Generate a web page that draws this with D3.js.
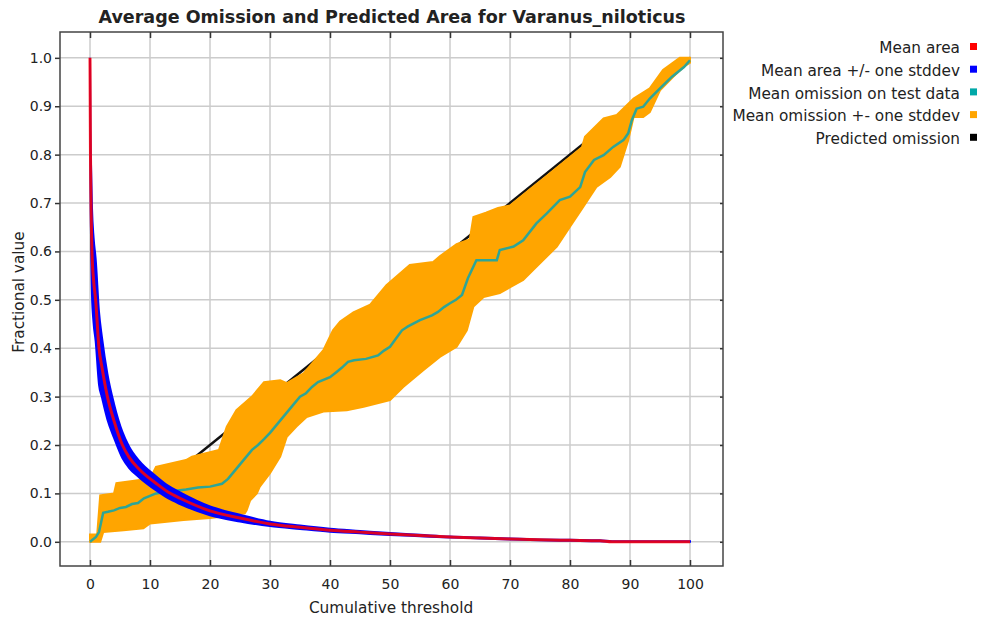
<!DOCTYPE html>
<html>
<head>
<meta charset="utf-8">
<title>Average Omission and Predicted Area</title>
<script src="https://d3js.org/d3.v7.min.js"></script>
<style>
  body { margin: 0; background: #fff; }
  text { font-family: "DejaVu Sans", sans-serif; fill: #222; }
</style>
</head>
<body>
<svg id="chart" width="989" height="622"></svg>
<script>
// mean area (fraction of area predicted) and its stddev
var areaX    = [0, 0.08, 0.15, 0.33, 0.6, 0.94, 1.5, 2, 2.9, 4, 5.4, 6.5, 8.2, 11.1, 13, 15, 20, 25, 30, 35, 40, 45, 50, 55, 60, 65, 70, 75, 80, 85, 87, 90, 100];
var areaMean = [1.0, 0.8, 0.72, 0.6, 0.54, 0.5, 0.4, 0.36, 0.3, 0.25, 0.2, 0.175, 0.15, 0.12, 0.103, 0.09, 0.064, 0.049, 0.037, 0.03, 0.024, 0.02, 0.016, 0.013, 0.01, 0.008, 0.006, 0.004, 0.003, 0.002, 0.0, 0.0, 0.0];
var areaSd   = [0.02, 0.05, 0.07, 0.09, 0.088, 0.085, 0.075, 0.062, 0.047, 0.035, 0.027, 0.022, 0.017, 0.0145, 0.013, 0.012, 0.009, 0.007, 0.0045, 0.0035, 0.003, 0.0025, 0.002, 0.0015, 0.001, 0.001, 0.001, 0.001, 0.001, 0.001, 0.001, 0.001, 0.001];

// mean omission on test data
var omX    = [0, 1, 1.5, 2.2, 3, 4, 5, 6, 7, 8, 9, 10, 11, 12, 14, 16, 18, 20, 22, 23, 24, 25, 26, 27, 28, 29, 30, 31, 32, 33, 34, 35, 36, 37, 38, 40, 41, 42, 43, 44, 46, 48, 49, 50, 51, 52, 53, 55, 57, 58, 59, 60, 61, 62, 63, 64.4, 67.8, 68.3, 70.6, 72.2, 74.4, 76.1, 78.3, 80, 81.7, 82.5, 84, 85.6, 87.2, 88.9, 89.7, 90.3, 91.1, 92.2, 93.3, 95, 97, 99, 100];
var omMean = [0, 0.01, 0.02, 0.06, 0.062, 0.065, 0.07, 0.072, 0.078, 0.08, 0.09, 0.095, 0.1, 0.102, 0.105, 0.108, 0.112, 0.114, 0.12, 0.13, 0.145, 0.16, 0.175, 0.19, 0.2, 0.212, 0.225, 0.24, 0.255, 0.27, 0.285, 0.3, 0.307, 0.32, 0.33, 0.34, 0.35, 0.36, 0.372, 0.375, 0.378, 0.385, 0.395, 0.403, 0.42, 0.437, 0.445, 0.458, 0.468, 0.475, 0.485, 0.493, 0.5, 0.51, 0.545, 0.582, 0.582, 0.603, 0.61, 0.623, 0.658, 0.678, 0.706, 0.713, 0.733, 0.764, 0.789, 0.799, 0.816, 0.83, 0.844, 0.871, 0.895, 0.899, 0.916, 0.937, 0.961, 0.981, 0.995];

// omission +/- one stddev, upper and lower edges
var omHighX = [0, 1.2, 1.7, 4, 4.4, 8, 10, 11, 16, 17, 21.5, 22.8, 24.4, 27, 29, 31.7, 32.8, 35.6, 38.9, 40.5, 41.7, 43.9, 46.7, 49.4, 53.3, 57.2, 58.3, 61.1, 63.3, 63.9, 66, 68, 70, 72, 74, 76, 78, 80, 82, 82.5, 85.6, 87.8, 90.6, 93.3, 95.5, 98.3, 100];
var omHigh  = [0.015, 0.015, 0.096, 0.1, 0.121, 0.127, 0.13, 0.155, 0.169, 0.176, 0.19, 0.238, 0.272, 0.3, 0.33, 0.334, 0.328, 0.348, 0.396, 0.437, 0.455, 0.474, 0.49, 0.53, 0.572, 0.578, 0.59, 0.615, 0.625, 0.671, 0.68, 0.69, 0.695, 0.715, 0.735, 0.755, 0.775, 0.795, 0.815, 0.837, 0.875, 0.882, 0.916, 0.937, 0.975, 1.0, 1.0];
var omLowX  = [0, 1.7, 2.2, 5.6, 8.9, 10, 15.6, 20, 23.9, 25.8, 26.1, 26.7, 27.8, 28.3, 30, 31.7, 32.8, 34.4, 36.1, 38.9, 42.8, 45.6, 50, 52.2, 55.6, 58.3, 61.1, 62.8, 63.9, 65.6, 68.3, 72.2, 74.4, 77.8, 80, 82.2, 84.4, 86.7, 88.3, 89.7, 90.6, 92.2, 93.3, 95, 97.2, 98.9, 100];
var omLow   = [0, 0, 0.02, 0.024, 0.028, 0.038, 0.045, 0.049, 0.055, 0.059, 0.065, 0.086, 0.1, 0.114, 0.142, 0.176, 0.217, 0.238, 0.258, 0.269, 0.272, 0.279, 0.293, 0.32, 0.355, 0.382, 0.403, 0.437, 0.486, 0.506, 0.514, 0.541, 0.568, 0.61, 0.651, 0.692, 0.733, 0.754, 0.775, 0.83, 0.878, 0.878, 0.888, 0.933, 0.961, 0.981, 0.99];

// predicted omission (straight line)
var predX = [0, 100];
var predY = [0, 1];

var xTicks = [0, 10, 20, 30, 40, 50, 60, 70, 80, 90, 100];
var yTicks = [0, 0.1, 0.2, 0.3, 0.4, 0.5, 0.6, 0.7, 0.8, 0.9, 1.0];

var legendNames  = ["Mean area", "Mean area +/- one stddev", "Mean omission on test data", "Mean omission +- one stddev", "Predicted omission"];
var legendColors = ["#ff0000", "#0000ff", "#00a8a8", "#ffa500", "#000000"];

var svg = d3.select("#chart");
var pLeft = 60, pRight = 723, pTop = 32, pBottom = 566;

var x = d3.scaleLinear().domain([-5, 105.5]).range([pLeft, pRight]);
var y = d3.scaleLinear().domain([-0.05, 1.0534]).range([pBottom, pTop]);

var line = d3.line().x(function(d){ return x(d[0]); }).y(function(d){ return y(d[1]); });
var smooth = d3.line().curve(d3.curveMonotoneX).x(function(d){ return x(d[0]); }).y(function(d){ return y(d[1]); });

svg.append("rect").attr("width", 989).attr("height", 622).attr("fill", "#fff");

// grid
var grid = svg.append("g");
grid.selectAll(".vg").data(xTicks).enter().append("line")
  .attr("x1", function(d){ return x(d); }).attr("x2", function(d){ return x(d); })
  .attr("y1", pTop).attr("y2", pBottom)
  .attr("stroke", "#cccccc").attr("stroke-width", 1.5);
grid.selectAll(".hg").data(yTicks).enter().append("line")
  .attr("y1", function(d){ return y(d); }).attr("y2", function(d){ return y(d); })
  .attr("x1", pLeft).attr("x2", pRight)
  .attr("stroke", "#cccccc").attr("stroke-width", 1.5);

var plot = svg.append("g");

// predicted omission
plot.append("path")
  .datum(predX.map(function(v, i){ return [v, predY[i]]; }))
  .attr("d", line)
  .attr("fill", "none").attr("stroke", "#111").attr("stroke-width", 2.5);

// omission band: upper edge then lower edge backwards
var hi = omHighX.map(function(v, i){ return [v, omHigh[i]]; });
var lo = omLowX.map(function(v, i){ return [v, omLow[i]]; }).reverse();
plot.append("path")
  .datum(hi.concat(lo))
  .attr("d", function(d){ return line(d) + "Z"; })
  .attr("fill", "#ffa500").attr("stroke", "#ffa500").attr("stroke-width", 2);

// mean omission
plot.append("path")
  .datum(omX.map(function(v, i){ return [v, omMean[i]]; }))
  .attr("d", line)
  .attr("fill", "none").attr("stroke", "#2ea596").attr("stroke-width", 2.5);

// area stddev band
var area = d3.area().curve(d3.curveMonotoneX)
  .x(function(d, i){ return x(areaX[i]); })
  .y0(function(d, i){ return y(Math.max(0, areaMean[i] - areaSd[i])); })
  .y1(function(d, i){ return y(Math.min(1, areaMean[i] + areaSd[i])); });
plot.append("path")
  .datum(areaX)
  .attr("d", area)
  .attr("fill", "#0000ff").attr("stroke", "#0000ff").attr("stroke-width", 2);

// mean area
plot.append("path")
  .datum(areaX.map(function(v, i){ return [v, areaMean[i]]; }))
  .attr("d", smooth)
  .attr("fill", "none").attr("stroke", "#ff0000").attr("stroke-opacity", 0.85).attr("stroke-width", 3);

// axes
var axL = svg.append("g").attr("transform", "translate(" + pLeft + ",0)")
  .call(d3.axisLeft(y).tickValues(yTicks).tickSizeInner(5).tickSizeOuter(0).tickPadding(3).tickFormat(d3.format(".1f")));
var axB = svg.append("g").attr("transform", "translate(0," + pBottom + ")")
  .call(d3.axisBottom(x).tickValues(xTicks).tickSizeInner(-6).tickSizeOuter(0).tickPadding(13).tickFormat(d3.format("d")));
var axT = svg.append("g").attr("transform", "translate(0," + pTop + ")")
  .call(d3.axisTop(x).tickValues(xTicks).tickSizeInner(-6).tickSizeOuter(0).tickFormat(""));
var axR = svg.append("g").attr("transform", "translate(" + pRight + ",0)")
  .call(d3.axisRight(y).tickValues(yTicks).tickSizeInner(-3).tickSizeOuter(0).tickFormat(""));
[axL, axB, axT, axR].forEach(function(a){
  a.select(".domain").remove();
  a.selectAll(".tick line").attr("stroke", "#333").attr("stroke-width", 1.5);
  a.selectAll("text").style("font-size", "14px").attr("fill", "#333");
});

// frame
svg.append("rect").attr("x", pLeft).attr("y", pTop)
  .attr("width", pRight - pLeft).attr("height", pBottom - pTop)
  .attr("fill", "none").attr("stroke", "#444").attr("stroke-width", 1.5);

// titles
svg.append("text").attr("x", 392).attr("y", 23).attr("text-anchor", "middle")
  .style("font-size", "17.5px").style("font-weight", "bold").attr("fill", "#111")
  .text("Average Omission and Predicted Area for Varanus_niloticus");
svg.append("text").attr("x", 391).attr("y", 613).attr("text-anchor", "middle")
  .style("font-size", "15.3px").text("Cumulative threshold");
svg.append("text").attr("transform", "translate(24,292) rotate(-90)").attr("text-anchor", "middle")
  .style("font-size", "15.3px").text("Fractional value");

// legend
var lg = svg.append("g");
legendNames.forEach(function(name, i){
  var yy = 48 + i * 22.7;
  lg.append("text").attr("x", 960).attr("y", yy).attr("dy", "0.35em").attr("text-anchor", "end")
    .style("font-size", "15.3px").text(name);
  lg.append("rect").attr("x", 970).attr("y", yy - 5).attr("width", 7).attr("height", 7)
    .attr("fill", legendColors[i]);
});
</script>
</body>
</html>
